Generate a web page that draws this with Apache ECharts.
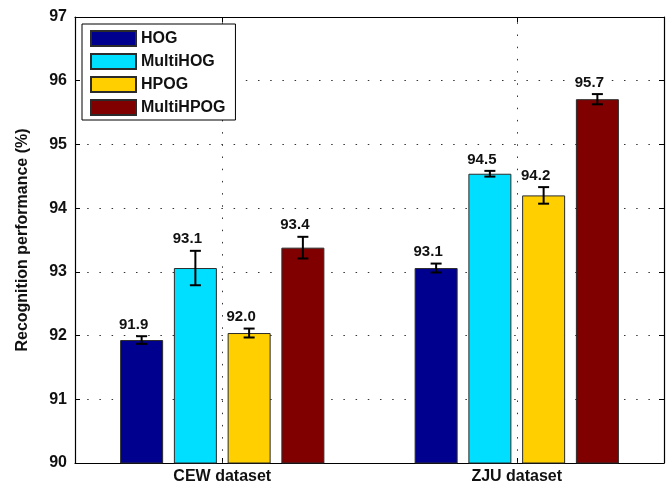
<!DOCTYPE html>
<html>
<head>
<meta charset="utf-8">
<script src="https://cdn.jsdelivr.net/npm/echarts@6/dist/echarts.min.js"></script>
<style>
  html, body { margin: 0; padding: 0; background: #fff; }
  #chart { width: 667px; height: 485px; }
</style>
</head>
<body>
<div id="chart"></div>
<script>
// Recognition performance per descriptor on two datasets (mean ± std)
const categories = ['CEW dataset', 'ZJU dataset'];
const seriesNames = ['HOG', 'MultiHOG', 'HPOG', 'MultiHPOG'];

const hogValues = [91.93, 93.06];
const multiHogValues = [93.06, 94.54];
const hpogValues = [92.04, 94.20];
const multiHpogValues = [93.38, 95.71];

const hogErrors = [0.06, 0.07];
const multiHogErrors = [0.27, 0.045];
const hpogErrors = [0.07, 0.13];
const multiHpogErrors = [0.17, 0.08];

const yTicks = [90, 91, 92, 93, 94, 95, 96, 97];

const colors = ['#00008f', '#00dfff', '#ffcf00', '#800000'];
const FONT = '"Liberation Sans", Arial, Helvetica, sans-serif';

const BAR_WIDTH = 43;
const BAR_GAP = 0.25;
const pitch = BAR_WIDTH * (1 + BAR_GAP);

const allValues = [hogValues, multiHogValues, hpogValues, multiHpogValues];
const allErrors = [hogErrors, multiHogErrors, hpogErrors, multiHpogErrors];

const dotted = { color: '#333', width: 1, type: [1.5, 10.7] };

function errorSeries(idx) {
  const offset = (idx - 1.5) * pitch;
  const data = categories.map((c, i) => [i, allValues[idx][i], allErrors[idx][i]]);
  return {
    type: 'custom',
    name: seriesNames[idx] + ' error',
    z: 5,
    silent: true,
    data: data,
    renderItem: function (params, api) {
      const ci = api.value(0), v = api.value(1), e = api.value(2);
      const x = api.coord([ci, v])[0] + offset;
      const yTop = api.coord([ci, v + e])[1];
      const yBot = api.coord([ci, v - e])[1];
      const half = 5.5;
      const ls = { stroke: '#000', lineWidth: 2 };
      return {
        type: 'group',
        children: [
          { type: 'line', shape: { x1: x, y1: yTop, x2: x, y2: yBot }, style: ls },
          { type: 'line', shape: { x1: x - half, y1: yTop, x2: x + half, y2: yTop }, style: ls },
          { type: 'line', shape: { x1: x - half, y1: yBot, x2: x + half, y2: yBot }, style: ls },
          {
            type: 'text',
            x: x - 8,
            y: yTop - 4,
            style: {
              text: v.toFixed(1),
              fill: '#111',
              font: 'bold 15px ' + FONT,
              align: 'center',
              verticalAlign: 'bottom'
            }
          }
        ]
      };
    }
  };
}

const barSeries = seriesNames.map((name, idx) => ({
  type: 'bar',
  name: name,
  data: allValues[idx],
  barWidth: BAR_WIDTH,
  barGap: (BAR_GAP * 100) + '%',
  itemStyle: { color: colors[idx], borderColor: '#2b2b2b', borderWidth: 1 },
  silent: true
}));

// Vertical dotted guides through the middle of each dataset group
const guideSeries = {
  type: 'line',
  name: 'guides',
  data: [],
  silent: true,
  z: 1,
  markLine: {
    silent: true,
    symbol: 'none',
    label: { show: false },
    lineStyle: dotted,
    data: categories.map(c => ({ xAxis: c }))
  }
};

const chart = echarts.init(document.getElementById('chart'), null, { renderer: 'canvas' });

const axisLineStyle = { lineStyle: { color: '#000', width: 1.2 } };

chart.setOption({
  animation: false,
  backgroundColor: '#fff',
  grid: { left: 75, right: 3, top: 17, bottom: 21, containLabel: false },
  legend: {
    data: seriesNames,
    orient: 'vertical',
    left: 82,
    top: 24,
    itemWidth: 45,
    itemHeight: 15,
    itemGap: 6,
    padding: [6, 10, 4, 8],
    backgroundColor: '#fff',
    borderColor: '#000',
    borderWidth: 1,
    borderRadius: 0,
    icon: 'rect',
    z: 10,
    textStyle: { fontFamily: FONT, fontWeight: 'bold', fontSize: 16, color: '#111' },
    selectedMode: false
  },
  xAxis: [
    {
      type: 'category',
      data: categories,
      position: 'bottom',
      axisLine: axisLineStyle,
      axisTick: { show: true, inside: true, length: 5, alignWithLabel: true, lineStyle: { color: '#000' } },
      axisLabel: { fontFamily: FONT, fontWeight: 'bold', fontSize: 16, color: '#111', margin: 6 },
      splitLine: { show: false }
    },
    {
      type: 'category',
      data: categories,
      position: 'top',
      axisLine: axisLineStyle,
      axisTick: { show: true, inside: true, length: 5, alignWithLabel: true, lineStyle: { color: '#000' } },
      axisLabel: { show: false },
      splitLine: { show: false }
    }
  ],
  yAxis: [
    {
      type: 'value',
      min: yTicks[0],
      max: yTicks[yTicks.length - 1],
      interval: 1,
      position: 'left',
      name: 'Recognition performance (%)',
      nameLocation: 'middle',
      nameGap: 44,
      nameTextStyle: { fontFamily: FONT, fontWeight: 'bold', fontSize: 16, color: '#111' },
      axisLine: { show: true, lineStyle: { color: '#000', width: 1.2 } },
      axisTick: { show: true, inside: true, length: 5, lineStyle: { color: '#000' } },
      axisLabel: {
        fontFamily: FONT, fontWeight: 'bold', fontSize: 16, color: '#111', margin: 8,
        formatter: v => (yTicks.includes(v) ? String(v) : '')
      },
      splitLine: { show: true, lineStyle: dotted }
    },
    {
      type: 'value',
      min: yTicks[0],
      max: yTicks[yTicks.length - 1],
      interval: 1,
      position: 'right',
      axisLine: { show: true, lineStyle: { color: '#000', width: 1.2 } },
      axisTick: { show: true, inside: true, length: 5, lineStyle: { color: '#000' } },
      axisLabel: { show: false },
      splitLine: { show: false }
    }
  ],
  series: [guideSeries].concat(barSeries, seriesNames.map((n, i) => errorSeries(i)))
});
</script>
</body>
</html>
